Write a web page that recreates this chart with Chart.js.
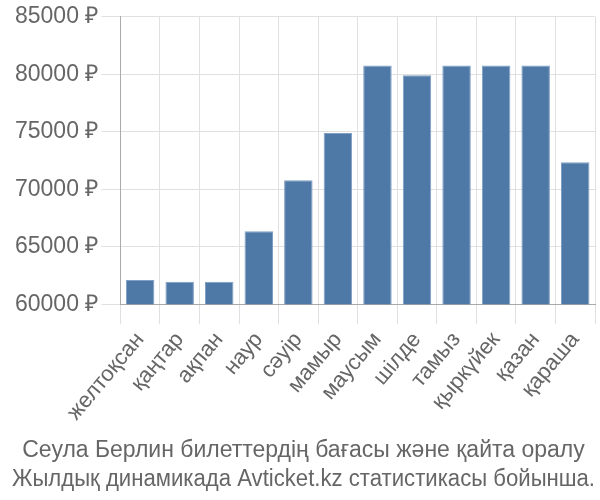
<!DOCTYPE html>
<html>
<head>
<meta charset="utf-8">
<script src="https://cdn.jsdelivr.net/npm/chart.js@4/dist/chart.umd.min.js"></script>
<style>
  body { margin: 0; background: #fff; }
</style>
</head>
<body>
<canvas id="myChart" width="600" height="500"></canvas>
<script>
'use strict';

// chart data
var months = ['желтоқсан', 'қаңтар', 'ақпан', 'наур', 'сәуір', 'мамыр', 'маусым', 'шілде', 'тамыз', 'қыркүйек', 'қазан', 'қараша'];
var prices = [62100, 61950, 61950, 66340, 70790, 74900, 80760, 79920, 80760, 80760, 80760, 72340];
var titleLines = ['Сеула Берлин билеттердің бағасы және қайта оралу', 'Жылдық динамикада Avticket.kz статистикасы бойынша.'];

var yMin = 60000;
var yMax = 85000;
var yStep = 5000;

function makeChart() {
  var ctx = document.getElementById('myChart').getContext('2d');
  var chart = new Chart(ctx, {
    type: 'bar',
    data: {
      labels: months,
      datasets: [{
        data: prices,
        backgroundColor: '#4e79a7',
        borderColor: '#7f9fc4',
        borderWidth: 1
      }]
    },
    options: {
      responsive: false,
      animation: false,
      layout: { padding: { top: 5, right: 5, left: 12, bottom: 0 } },
      plugins: {
        legend: { display: false },
        tooltip: { enabled: false },
        title: {
          display: true,
          position: 'bottom',
          text: titleLines,
          color: '#666',
          font: { family: 'Liberation Sans, Arial, sans-serif', size: 23, weight: 'normal', lineHeight: 1.25 },
          padding: { top: 8, bottom: 6 }
        }
      },
      scales: {
        x: {
          grid: { color: '#e0e0e0', tickLength: 20 },
          border: { color: '#aaa' },
          ticks: {
            color: '#666',
            maxRotation: 50,
            minRotation: 50,
            font: { family: 'Liberation Sans, Arial, sans-serif', size: 22 }
          }
        },
        y: {
          min: yMin,
          max: yMax,
          grid: { color: '#e0e0e0', tickLength: 19 },
          border: { color: '#aaa' },
          ticks: {
            stepSize: yStep,
            color: '#666',
            padding: 3,
            font: { family: 'Liberation Sans, Arial, sans-serif', size: 23 },
            callback: function (v) { return v + ' ₽'; }
          }
        }
      }
    }
  });
}

makeChart();
</script>
</body>
</html>
